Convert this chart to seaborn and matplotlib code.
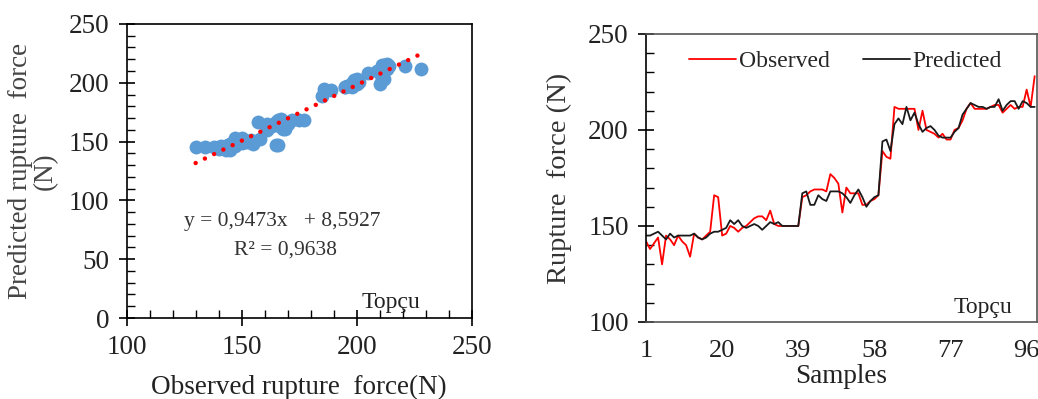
import matplotlib
matplotlib.use('Agg')
import matplotlib.pyplot as plt
from matplotlib.ticker import MultipleLocator
import seaborn as sns
import pandas as pd

# observed / predicted rupture force per sample (N)
observed = [142, 138, 141, 144, 130, 145, 143, 140, 145, 142,
            140, 134, 146, 144, 143, 145, 147, 166, 165, 145,
            146, 150, 149, 147, 149, 150, 152, 154, 155, 155,
            153, 158, 151, 150, 150, 150, 150, 150, 150, 165,
            166, 168, 169, 169, 169, 168, 177, 175, 172, 157,
            170, 167, 167, 167, 161, 161, 163, 164, 166, 189,
            186, 185, 212, 211, 211, 211, 211, 211, 200, 210,
            200, 199, 198, 196, 198, 195, 195, 200, 201, 205,
            211, 214, 211, 211, 211, 211, 212, 213, 213, 209,
            211, 213, 211, 212, 212, 221, 212, 228]
predicted = [145, 145, 146, 147, 145, 143, 146, 144, 145, 145,
             145, 145, 146, 144, 143, 144, 146, 147, 147, 148,
             149, 153, 151, 153, 150, 149, 150, 151, 150, 148,
             150, 152, 151, 152, 150, 150, 150, 150, 150, 167,
             168, 161, 161, 166, 164, 163, 168, 168, 168, 167,
             165, 162, 166, 169, 165, 160, 163, 165, 166, 194,
             195, 189, 203, 206, 203, 212, 205, 209, 203, 199,
             201, 202, 200, 197, 196, 196, 196, 199, 201, 208,
             211, 214, 213, 212, 212, 211, 212, 212, 216, 210,
             213, 215, 215, 211, 215, 214, 212, 212]
samples = list(range(1, len(observed) + 1))
sample_ticks = [1, 20, 39, 58, 77, 96]

slope, intercept = 0.9473, 8.5927
r2 = 0.9638

sns.set_theme(style='white')
plt.rcParams['font.family'] = ['Liberation Serif', 'DejaVu Serif']

fig = plt.figure(figsize=(10.38, 3.99), dpi=100)
ax1 = fig.add_axes([0.122, 0.203, 0.3324, 0.737])
ax2 = fig.add_axes([0.6224, 0.193, 0.3767, 0.722])

# ---- left: observed vs predicted scatter with trendline
sc = pd.DataFrame({'obs': observed, 'pred': predicted})
sns.scatterplot(data=sc, x='obs', y='pred', ax=ax1, color='#5B9BD5',
                s=100, linewidth=0, zorder=2)
xs = [min(observed), max(observed)]
trend = pd.DataFrame({'x': xs, 'y': [slope * v + intercept for v in xs]})
sns.lineplot(data=trend, x='x', y='y', ax=ax1, color='red', lw=3.2,
             linestyle=(0, (0.01, 2.3)), dash_capstyle='round', zorder=3)
ax1.set_xlim(100, 250)
ax1.set_ylim(0, 250)
ax1.xaxis.set_major_locator(MultipleLocator(50))
ax1.xaxis.set_minor_locator(MultipleLocator(10))
ax1.yaxis.set_major_locator(MultipleLocator(50))
ax1.yaxis.set_minor_locator(MultipleLocator(10))
ax1.tick_params(which='major', direction='inout', length=11, width=1.2,
                labelsize=19.5, colors='black', labelcolor='#222222', pad=7)
ax1.tick_params(which='minor', direction='in', length=6, width=1, colors='black')
ax1.tick_params(axis='x', bottom=True, which='both')
ax1.tick_params(axis='y', left=True, which='both')
ax1.set_xlabel('Observed rupture  force(N)', fontsize=19.5, color='#222222')
ax1.xaxis.set_label_coords(0.5, -0.195)
ax1.set_ylabel('Predicted rupture  force\n(N)', fontsize=19.5, color='#444444',
               linespacing=1.0)
ax1.yaxis.set_label_coords(-0.20, 0.5)
for s in ax1.spines.values():
    s.set_color('black')
    s.set_linewidth(1.2)
ax1.text(0.45, 0.327, 'y = 0,9473x   + 8,5927', transform=ax1.transAxes,
         ha='center', va='center', fontsize=15.5, color='#333333')
ax1.text(0.459, 0.231, 'R² = %s' % f'{r2:.4f}'.replace('.', ','),
         transform=ax1.transAxes, ha='center', va='center', fontsize=15.5,
         color='#333333')
ax1.text(0.766, 0.052, 'Topçu', transform=ax1.transAxes, ha='center',
         va='center', fontsize=17, color='#222222')

# ---- right: observed and predicted per sample
ln = pd.DataFrame({'Sample': samples * 2,
                   'Force': observed + predicted,
                   'Series': ['Observed'] * len(observed) + ['Predicted'] * len(predicted)})
sns.lineplot(data=ln, x='Sample', y='Force', hue='Series', ax=ax2,
             palette={'Observed': '#FF0000', 'Predicted': '#1a1a1a'}, lw=1.3)
ax2.set_xlim(1, 98.6)
ax2.set_ylim(100, 250)
ax2.set_xticks(sample_ticks)
ax2.yaxis.set_major_locator(MultipleLocator(50))
ax2.yaxis.set_minor_locator(MultipleLocator(10))
ax2.tick_params(axis='y', which='major', direction='inout', length=11, width=1.2,
                labelsize=19.5, left=True, colors='black', labelcolor='#222222',
                pad=7)
ax2.tick_params(axis='y', which='minor', direction='in', length=6, width=1,
                left=True, colors='black')
ax2.tick_params(axis='x', length=0, labelsize=19, pad=13, colors='#222222')
ax2.set_xlabel('Samples', fontsize=19.5, color='#222222')
ax2.xaxis.set_label_coords(0.5, -0.145)
ax2.set_ylabel('Rupture  force (N)', fontsize=20.5, color='#333333')
ax2.yaxis.set_label_coords(-0.19, 0.5)
for s in ax2.spines.values():
    s.set_color('#555555')
    s.set_linewidth(1.2)
ax2.spines['left'].set_color('black')
ax2.legend(loc='upper center', bbox_to_anchor=(0.51, 1.015), ncol=2,
           frameon=False, fontsize=17, handlelength=2.0, handletextpad=0.1,
           columnspacing=1.4, title=None)
ax2.text(0.862, 0.052, 'Topçu', transform=ax2.transAxes, ha='center',
         va='center', fontsize=17, color='#222222')

plt.savefig('out.png', dpi=100)
